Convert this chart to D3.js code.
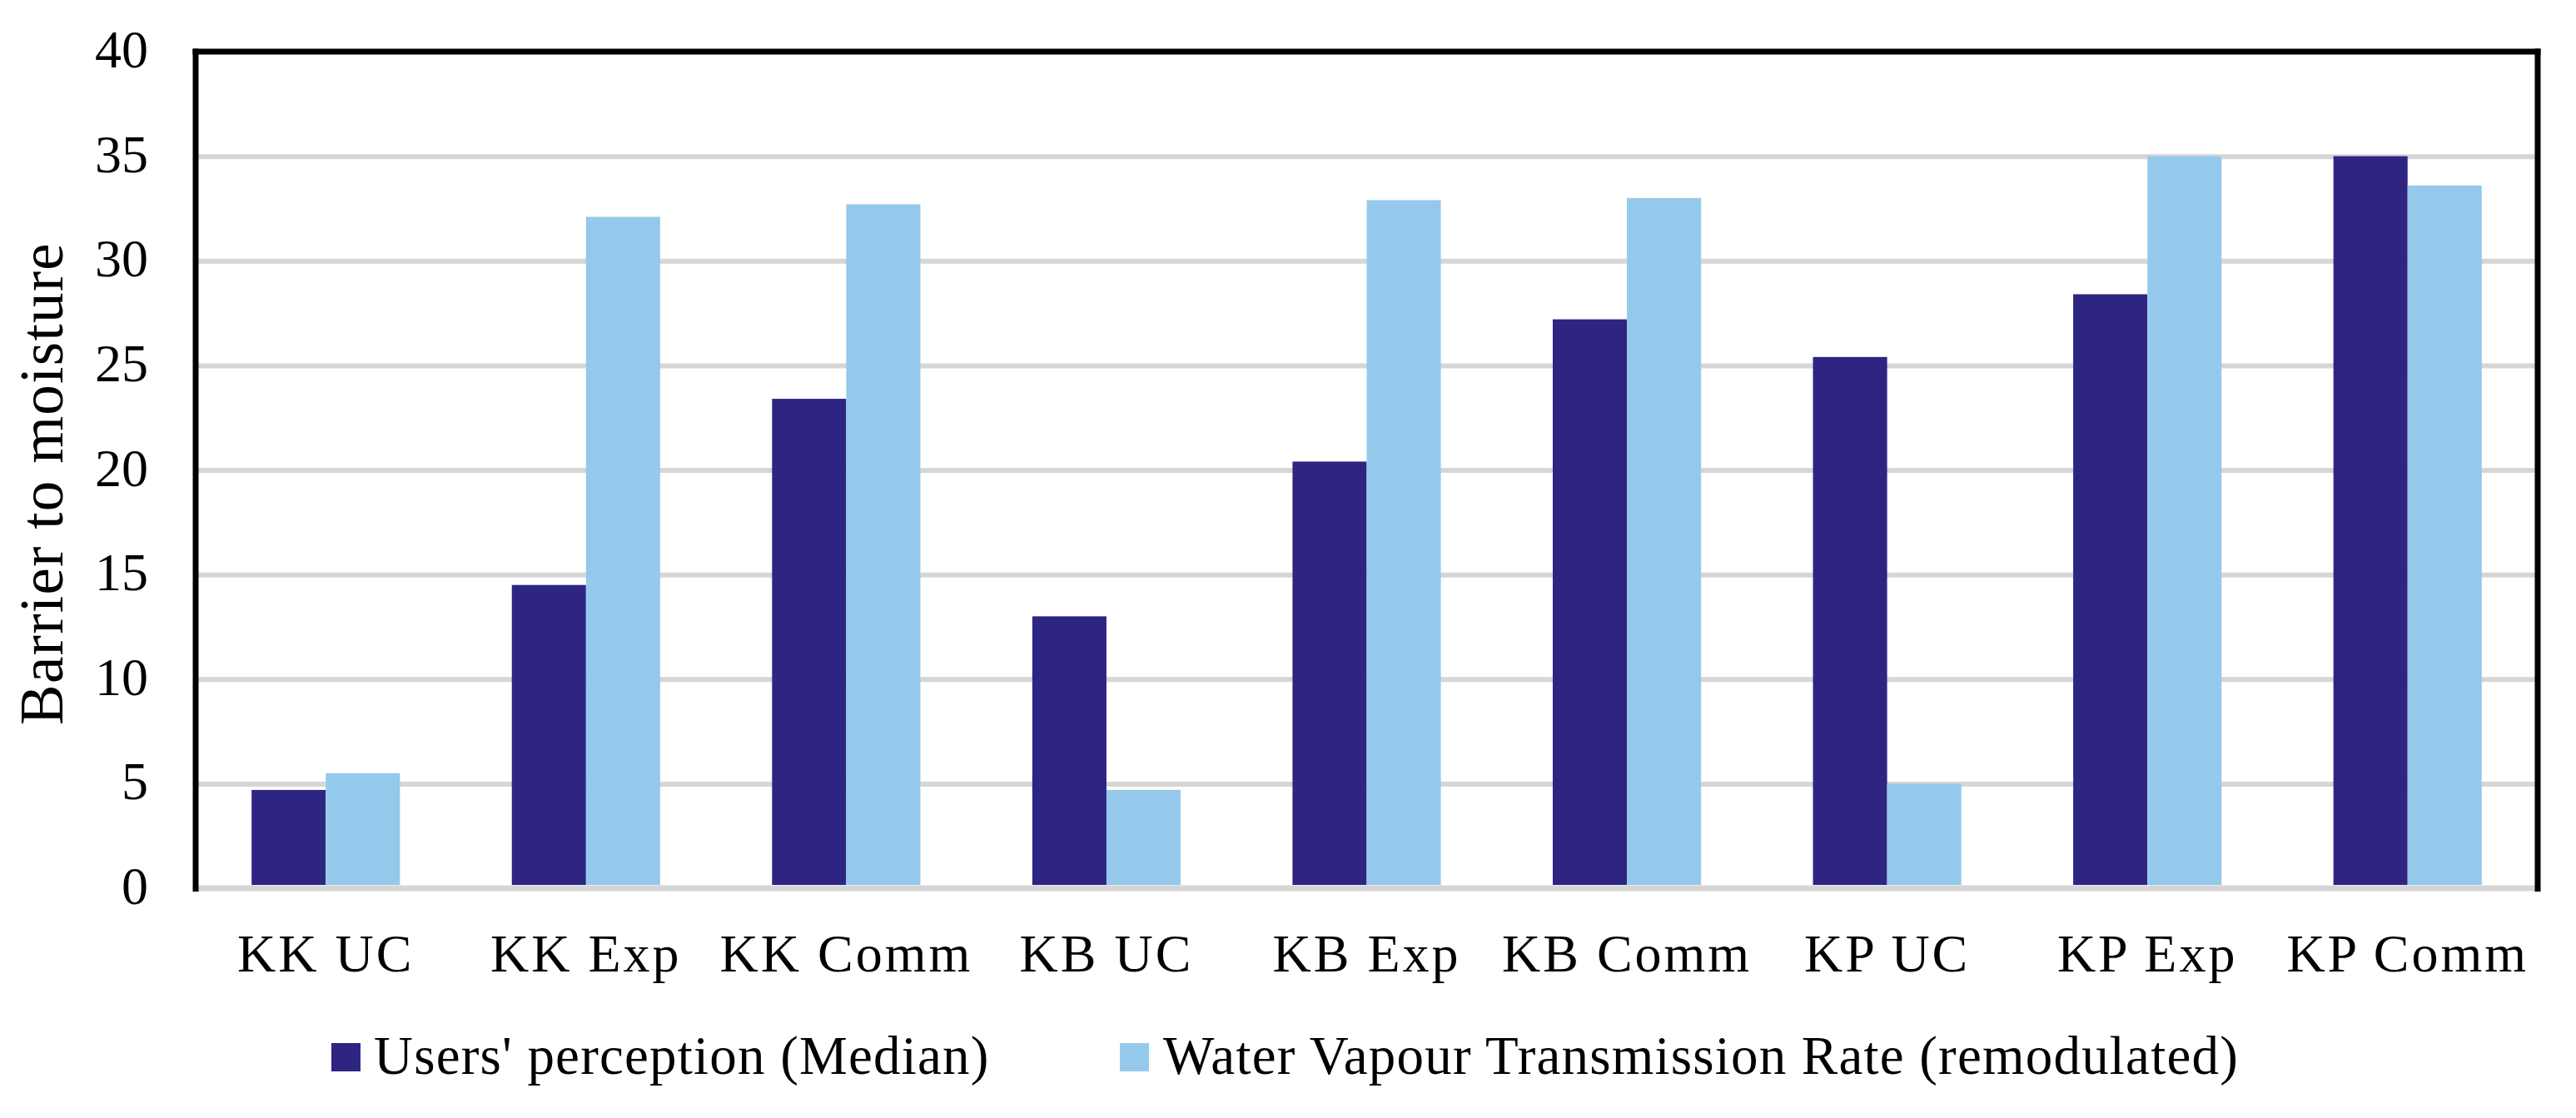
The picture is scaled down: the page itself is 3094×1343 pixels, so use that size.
<!DOCTYPE html>
<html>
<head>
<meta charset="utf-8">
<script src="https://cdn.jsdelivr.net/npm/d3@7"></script>
<style>
  html, body { margin: 0; padding: 0; background: #ffffff; }
  svg { display: block; }
</style>
</head>
<body>
<svg id="chart" width="3094" height="1343"></svg>
<script>
const categories = ["KK UC", "KK Exp", "KK Comm", "KB UC", "KB Exp", "KB Comm", "KP UC", "KP Exp", "KP Comm"];
const seriesNames = ["Users' perception (Median)", "Water Vapour Transmission Rate (remodulated)"];
const usersPerception = [4.7, 14.5, 23.4, 13.0, 20.4, 27.2, 25.4, 28.4, 35.0];
const waterVapour = [5.5, 32.1, 32.7, 4.7, 32.9, 33.0, 5.0, 35.0, 33.6];
const yTicks = [0, 5, 10, 15, 20, 25, 30, 35, 40];
const yTitle = "Barrier to moisture";

const colors = ["#2E2583", "#95C9EB"];
const FONT = "'Liberation Serif', 'Times New Roman', serif";

const plotLeft = 235, plotRight = 3048, plotTop = 62, plotBottom = 1067;

const svg = d3.select("#chart");
svg.append("rect").attr("width", 3094).attr("height", 1343).attr("fill", "#fff");

const y = d3.scaleLinear().domain([0, 40]).range([plotBottom, plotTop]);
const x0 = d3.scaleBand().domain(categories).range([plotLeft, plotRight]).paddingInner(0.43).paddingOuter(0.215);
const x1 = d3.scaleBand().domain(seriesNames).range([0, x0.bandwidth()]);

const data = categories.map((c, i) => ({ cat: c, values: [usersPerception[i], waterVapour[i]] }));

// gridlines
const grid = svg.append("g")
  .attr("transform", `translate(${plotLeft},0)`)
  .call(d3.axisLeft(y).tickValues(yTicks.filter(t => t > 0 && t < 40)).tickSize(-(plotRight - plotLeft)).tickFormat(""));
grid.select(".domain").remove();
grid.selectAll(".tick line").attr("stroke", "#d6d6d6").attr("stroke-width", 6);

// bars
const groups = svg.append("g").selectAll("g").data(data).join("g")
  .attr("transform", d => `translate(${x0(d.cat)},0)`);
groups.selectAll("rect").data(d => d.values.map((v, k) => ({ v, k })))
  .join("rect")
  .attr("x", d => x1(seriesNames[d.k]))
  .attr("width", x1.bandwidth())
  .attr("y", d => y(d.v))
  .attr("height", d => y(0) - 4 - y(d.v))
  .attr("fill", d => colors[d.k]);

// zero line
svg.append("line").attr("x1", plotLeft).attr("x2", plotRight).attr("y1", y(0)).attr("y2", y(0))
  .attr("stroke", "#d6d6d6").attr("stroke-width", 7);

// frame
svg.append("line").attr("x1", plotLeft).attr("x2", plotLeft).attr("y1", plotTop - 3.5).attr("y2", plotBottom + 4)
  .attr("stroke", "#000").attr("stroke-width", 7);
svg.append("line").attr("x1", plotRight).attr("x2", plotRight).attr("y1", plotTop - 3.5).attr("y2", plotBottom + 4)
  .attr("stroke", "#000").attr("stroke-width", 7);
svg.append("line").attr("x1", plotLeft - 3.5).attr("x2", plotRight + 3.5).attr("y1", plotTop).attr("y2", plotTop)
  .attr("stroke", "#000").attr("stroke-width", 7);

// y axis labels
const yAxis = svg.append("g")
  .attr("transform", `translate(${plotLeft},0)`)
  .call(d3.axisLeft(y).tickValues(yTicks).tickSize(0).tickPadding(57).tickFormat(d3.format("d")));
yAxis.select(".domain").remove();
yAxis.selectAll("text")
  .attr("font-family", FONT).attr("font-size", 64).attr("fill", "#000")
  .attr("dy", "0.29em");

// x axis labels
const xAxis = svg.append("g")
  .attr("transform", `translate(0,${plotBottom})`)
  .call(d3.axisBottom(x0).tickSize(0).tickPadding(0));
xAxis.select(".domain").remove();
xAxis.selectAll("text")
  .attr("font-family", FONT).attr("font-size", 64).attr("fill", "#000")
  .attr("letter-spacing", 3)
  .attr("y", 100).attr("dy", 0);

// y title
svg.append("text")
  .attr("transform", `translate(75,581) rotate(-90)`)
  .attr("text-anchor", "middle")
  .attr("font-family", FONT).attr("font-size", 73).attr("fill", "#000")
  .attr("letter-spacing", 1.3)
  .text(yTitle);

// legend
const legendPos = [{ mx: 398, tx: 449 }, { mx: 1345, tx: 1397 }];
const legend = svg.append("g").selectAll("g").data(seriesNames).join("g");
legend.append("rect")
  .attr("x", (d, i) => legendPos[i].mx).attr("y", 1253)
  .attr("width", 35).attr("height", 34)
  .attr("fill", (d, i) => colors[i]);
legend.append("text")
  .attr("x", (d, i) => legendPos[i].tx).attr("y", 1290)
  .attr("font-family", FONT).attr("font-size", 65).attr("fill", "#000")
  .attr("letter-spacing", 1.2)
  .text(d => d);
</script>
</body>
</html>
